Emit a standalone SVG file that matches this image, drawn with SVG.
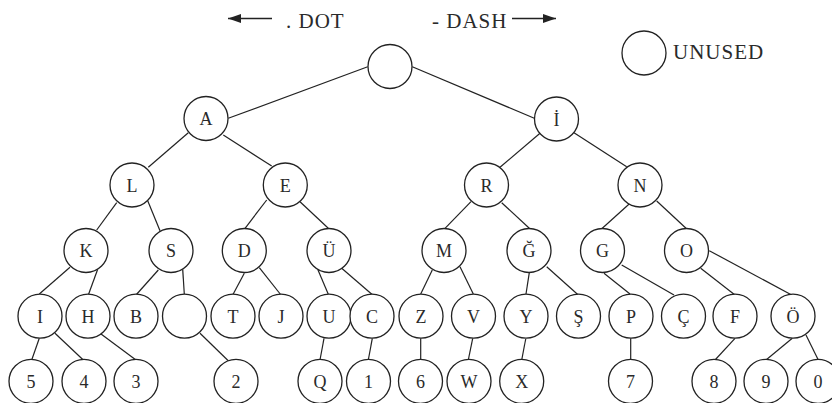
<svg xmlns="http://www.w3.org/2000/svg" width="832" height="403" viewBox="0 0 832 403">
<defs>
<style>
.n circle{fill:#fff;stroke:#222;stroke-width:1.3}
.n text,.lbl{font-family:"Liberation Serif","Times New Roman",serif;fill:#2a2a2a}
.n text{font-size:18px;text-anchor:middle}
.lbl{font-size:21px;letter-spacing:1px}
#edges line{stroke:#222;stroke-width:1.2;fill:none}
.arr{stroke:#222;stroke-width:1.4;fill:none}
</style>
<marker id="ah" viewBox="0 0 13 9" refX="13" refY="4.5" markerWidth="13" markerHeight="9" markerUnits="userSpaceOnUse" orient="auto">
<path d="M0,0 L13,4.5 L0,9 Z" fill="#222"/>
</marker>
</defs>
<rect width="832" height="403" fill="#fff"/>

<g id="legend">
<line class="arr" x1="272" y1="18.5" x2="228" y2="18.5" marker-end="url(#ah)"/>
<text class="lbl" x="286" y="28.3">. DOT</text>
<text class="lbl" x="432" y="28.3">- DASH</text>
<line class="arr" x1="512" y1="18.5" x2="556" y2="18.5" marker-end="url(#ah)"/>
<g class="n" id="unused"><circle cx="644" cy="53" r="22"/></g>
<text class="lbl" x="673" y="59">UNUSED</text>
</g>

<g id="edges">
<line x1="367.7" y1="66.7" x2="228.3" y2="118.3"/>
<line x1="412.3" y1="66.7" x2="534.3" y2="118.3"/>
<line x1="188.3" y1="132.7" x2="148.3" y2="167.3"/>
<line x1="223.3" y1="135" x2="271.7" y2="166"/>
<line x1="540" y1="133.3" x2="500" y2="167.3"/>
<line x1="574" y1="132.7" x2="626.7" y2="166.7"/>
<line x1="116.7" y1="202.7" x2="96.7" y2="230"/>
<line x1="147.7" y1="200.7" x2="160" y2="230.7"/>
<line x1="266.7" y1="200" x2="244.3" y2="229.3"/>
<line x1="300" y1="201.7" x2="328.3" y2="228.3"/>
<line x1="471" y1="201.7" x2="445" y2="228.3"/>
<line x1="501.7" y1="202.7" x2="529.3" y2="228.3"/>
<line x1="630" y1="203.3" x2="602.3" y2="228.3"/>
<line x1="656.7" y1="201" x2="686" y2="228.3"/>
<line x1="70" y1="267.3" x2="39.3" y2="294"/>
<line x1="97.7" y1="269.3" x2="88.3" y2="295"/>
<line x1="158.3" y1="270" x2="136" y2="295"/>
<line x1="182.7" y1="269.3" x2="184.3" y2="294.3"/>
<line x1="244.3" y1="273.3" x2="232.7" y2="295"/>
<line x1="259.3" y1="267.7" x2="281" y2="295"/>
<line x1="317.7" y1="269.3" x2="328.3" y2="294.3"/>
<line x1="341.7" y1="268.3" x2="372.7" y2="295"/>
<line x1="432.3" y1="270" x2="420.7" y2="294"/>
<line x1="460" y1="266.7" x2="473.3" y2="294"/>
<line x1="529.3" y1="272.7" x2="526" y2="294"/>
<line x1="546.7" y1="266.7" x2="578.3" y2="295"/>
<line x1="604" y1="273.3" x2="630" y2="294"/>
<line x1="621.7" y1="265" x2="674" y2="295"/>
<line x1="700.7" y1="268.3" x2="735" y2="295"/>
<line x1="709.3" y1="250.7" x2="791.7" y2="295"/>
<line x1="39.3" y1="338.3" x2="31.7" y2="360"/>
<line x1="55" y1="333.3" x2="83.3" y2="360"/>
<line x1="100" y1="333.3" x2="136" y2="360"/>
<line x1="200" y1="333.3" x2="229.3" y2="361.7"/>
<line x1="324" y1="338.3" x2="320" y2="360"/>
<line x1="372.3" y1="338.3" x2="368.3" y2="360"/>
<line x1="420.7" y1="338.3" x2="420.7" y2="360"/>
<line x1="472.7" y1="338.3" x2="468.3" y2="360"/>
<line x1="525.7" y1="339" x2="521.7" y2="360"/>
<line x1="630.7" y1="338.3" x2="630.7" y2="360"/>
<line x1="735" y1="338.3" x2="715" y2="360"/>
<line x1="792.3" y1="338.3" x2="766" y2="360"/>
<line x1="806" y1="335" x2="818.3" y2="360"/>
</g>

<g class="n" id="root"><circle cx="390" cy="66.5" r="22"/></g>
<g class="n" id="nA"><circle cx="206" cy="118.5" r="22"/><text x="206" y="125">A</text></g>
<g class="n" id="nIdot"><circle cx="556.5" cy="119" r="22"/><text x="556.5" y="125.5">İ</text></g>
<g class="n" id="nL"><circle cx="132" cy="185" r="22"/><text x="132" y="191.5">L</text></g>
<g class="n" id="nE"><circle cx="285.3" cy="185" r="22"/><text x="285.3" y="191.5">E</text></g>
<g class="n" id="nR"><circle cx="486.5" cy="185" r="22"/><text x="486.5" y="191.5">R</text></g>
<g class="n" id="nN"><circle cx="640" cy="185" r="22"/><text x="640" y="191.5">N</text></g>
<g class="n" id="nK"><circle cx="86" cy="250.5" r="22"/><text x="86" y="257">K</text></g>
<g class="n" id="nS"><circle cx="171" cy="250.5" r="22"/><text x="171" y="257">S</text></g>
<g class="n" id="nD"><circle cx="244.3" cy="250.5" r="22"/><text x="244.3" y="257">D</text></g>
<g class="n" id="nUuml"><circle cx="329" cy="250.5" r="22"/><text x="329" y="257">Ü</text></g>
<g class="n" id="nM"><circle cx="444" cy="250.5" r="22"/><text x="444" y="257">M</text></g>
<g class="n" id="nGbreve"><circle cx="529" cy="250.5" r="22"/><text x="529" y="257">Ğ</text></g>
<g class="n" id="nG"><circle cx="602.5" cy="250.5" r="22"/><text x="602.5" y="257">G</text></g>
<g class="n" id="nO"><circle cx="686.5" cy="250.5" r="22"/><text x="686.5" y="257">O</text></g>
<g class="n" id="nI"><circle cx="40" cy="316.2" r="22"/><text x="40" y="322.7">I</text></g>
<g class="n" id="nH"><circle cx="88" cy="316.2" r="22"/><text x="88" y="322.7">H</text></g>
<g class="n" id="nB"><circle cx="136" cy="316.2" r="22"/><text x="136" y="322.7">B</text></g>
<g class="n" id="nEmpty"><circle cx="184.5" cy="316.2" r="22"/></g>
<g class="n" id="nT"><circle cx="233" cy="316.2" r="22"/><text x="233" y="322.7">T</text></g>
<g class="n" id="nJ"><circle cx="281" cy="316.2" r="22"/><text x="281" y="322.7">J</text></g>
<g class="n" id="nU"><circle cx="329" cy="316.2" r="22"/><text x="329" y="322.7">U</text></g>
<g class="n" id="nC"><circle cx="372" cy="316.2" r="22"/><text x="372" y="322.7">C</text></g>
<g class="n" id="nZ"><circle cx="421" cy="316.2" r="22"/><text x="421" y="322.7">Z</text></g>
<g class="n" id="nV"><circle cx="473.5" cy="316.2" r="22"/><text x="473.5" y="322.7">V</text></g>
<g class="n" id="nY"><circle cx="526" cy="316.2" r="22"/><text x="526" y="322.7">Y</text></g>
<g class="n" id="nScedil"><circle cx="578.5" cy="316.2" r="22"/><text x="578.5" y="322.7">Ş</text></g>
<g class="n" id="nP"><circle cx="631" cy="316.2" r="22"/><text x="631" y="322.7">P</text></g>
<g class="n" id="nCcedil"><circle cx="683.5" cy="316.2" r="22"/><text x="683.5" y="322.7">Ç</text></g>
<g class="n" id="nF"><circle cx="735" cy="316.2" r="22"/><text x="735" y="322.7">F</text></g>
<g class="n" id="nOuml"><circle cx="793" cy="316.2" r="22"/><text x="793" y="322.7">Ö</text></g>
<g class="n" id="n5"><circle cx="31" cy="381.3" r="22"/><text x="31" y="387.8">5</text></g>
<g class="n" id="n4"><circle cx="84" cy="381.3" r="22"/><text x="84" y="387.8">4</text></g>
<g class="n" id="n3"><circle cx="136" cy="381.3" r="22"/><text x="136" y="387.8">3</text></g>
<g class="n" id="n2"><circle cx="236" cy="381.3" r="22"/><text x="236" y="387.8">2</text></g>
<g class="n" id="nQ"><circle cx="320" cy="381.3" r="22"/><text x="320" y="387.8">Q</text></g>
<g class="n" id="n1"><circle cx="368.5" cy="381.3" r="22"/><text x="368.5" y="387.8">1</text></g>
<g class="n" id="n6"><circle cx="420.5" cy="381.3" r="22"/><text x="420.5" y="387.8">6</text></g>
<g class="n" id="nW"><circle cx="469" cy="381.3" r="22"/><text x="469" y="387.8">W</text></g>
<g class="n" id="nX"><circle cx="521.7" cy="381.3" r="22"/><text x="521.7" y="387.8">X</text></g>
<g class="n" id="n7"><circle cx="630.5" cy="381.3" r="22"/><text x="630.5" y="387.8">7</text></g>
<g class="n" id="n8"><circle cx="714" cy="381.3" r="22"/><text x="714" y="387.8">8</text></g>
<g class="n" id="n9"><circle cx="766" cy="381.3" r="22"/><text x="766" y="387.8">9</text></g>
<g class="n" id="n0"><circle cx="818" cy="381.3" r="22"/><text x="818" y="387.8">0</text></g>
</svg>
